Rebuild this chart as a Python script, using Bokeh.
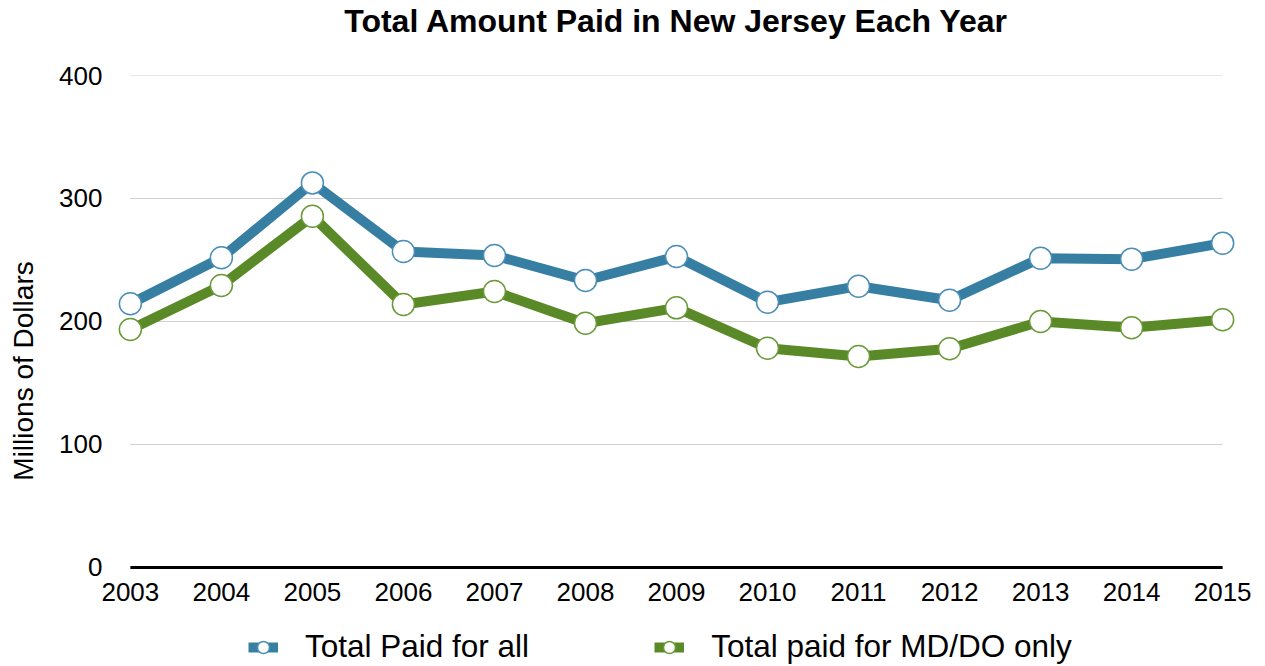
from bokeh.plotting import figure
from bokeh.models import Range1d, FixedTicker, Legend, LegendItem, Title
from bokeh.embed import file_html
from bokeh.resources import INLINE

# ---- data ----
years = list(range(2003, 2016))
total_all = [214.4, 251.8, 312.7, 256.9, 253.7, 233.3, 252.8, 215.7, 228.7, 217.3, 251.5, 250.7, 263.7]
total_mddo = [193.5, 229.3, 285.6, 213.8, 224.4, 198.6, 211.1, 178.3, 171.5, 177.8, 200.0, 194.9, 201.4]
y_ticks = [0, 100, 200, 300, 400]
series_names = ["Total Paid for all", "Total paid for MD/DO only"]
title_text = "Total Amount Paid in New Jersey Each Year"
y_label = "Millions of Dollars"

FONT = "Liberation Sans"
BLUE = "#377FA2"
BLUE_EDGE = "#4A8DB6"
GREEN = "#5A8A27"
GREEN_EDGE = "#6A9A38"

# frame runs to the bottom of the canvas so the legend can sit under the axis
p = figure(width=1265, height=666, output_backend="svg", toolbar_location=None,
           x_range=Range1d(years[0] - 0.35, years[-1] + 0.35),
           y_range=Range1d(-80.5, y_ticks[-1]),
           min_border_left=98, min_border_right=11, min_border_top=75, min_border_bottom=0,
           title=title_text)
p.outline_line_color = None
p.background_fill_color = "white"
p.border_fill_color = "white"
p.xgrid.visible = False
p.ygrid.visible = False

p.title.text_font = FONT
p.title.text_font_size = "32px"
p.title.text_font_style = "bold"
p.title.align = "center"
p.title.vertical_align = "bottom"
p.title.text_color = "black"
p.title.standoff = 0

# empty spacer between the frame and the title (pushes the title up)
p.add_layout(Title(text=" ", text_font_size="1px", standoff=34), "above")

# horizontal grid lines spanning the data years
g = y_ticks[1:]
p.segment(x0=[years[0]] * len(g), x1=[years[-1]] * len(g), y0=g, y1=g,
          line_color="#D0D0D0", line_width=1, level="underlay")
# baseline
p.segment(x0=[years[0]], x1=[years[-1]], y0=[y_ticks[0]], y1=[y_ticks[0]],
          line_color="black", line_width=3, level="underlay")

# axes
for ax in (p.xaxis, p.yaxis):
    ax.axis_line_color = None
    ax.major_tick_line_color = None
    ax.minor_tick_line_color = None
    ax.major_label_text_font = FONT
    ax.major_label_text_font_size = "26px"
    ax.major_label_text_color = "black"
p.xaxis.ticker = FixedTicker(ticks=years)
p.xaxis.major_label_standoff = 10
p.xaxis.fixed_location = 0
p.yaxis.ticker = FixedTicker(ticks=y_ticks)
p.yaxis.bounds = (y_ticks[0], y_ticks[-1])
p.yaxis.major_label_standoff = -10
p.yaxis.axis_label = y_label
p.yaxis.axis_label_text_font = FONT
p.yaxis.axis_label_text_font_size = "28px"
p.yaxis.axis_label_text_font_style = "normal"
p.yaxis.axis_label_text_color = "black"
p.yaxis.axis_label_standoff = 17

# series
r1 = p.line(years, total_all, line_color=BLUE, line_width=10, line_join="round")
s1 = p.scatter(years, total_all, size=22, fill_color="white", line_color=BLUE_EDGE, line_width=1.5)
r2 = p.line(years, total_mddo, line_color=GREEN, line_width=10, line_join="round")
s2 = p.scatter(years, total_mddo, size=22, fill_color="white", line_color=GREEN_EDGE, line_width=1.5)

legend = Legend(items=[LegendItem(label=series_names[0], renderers=[r1, s1]),
                       LegendItem(label=series_names[1], renderers=[r2, s2])],
                orientation="horizontal", location=(150, 1),
                glyph_width=30, glyph_height=30, label_standoff=27, spacing=125,
                label_text_font=FONT, label_text_font_size="31.5px", label_text_color="black",
                padding=0, margin=0, border_line_color=None, background_fill_alpha=0)
p.add_layout(legend)

open("out.html", "w").write(file_html(p, INLINE))
